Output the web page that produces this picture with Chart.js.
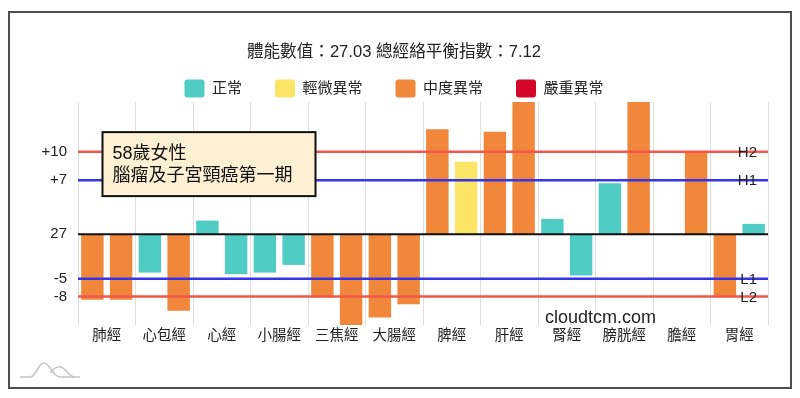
<!DOCTYPE html>
<html><head><meta charset="utf-8">
<script src="https://cdn.jsdelivr.net/npm/chart.js@4.4.0/dist/chart.umd.min.js"></script>
<style>
html,body{margin:0;padding:0;background:#fff;}
#wrap{position:relative;width:800px;height:398px;overflow:hidden;}
#frame{position:absolute;left:8px;top:11px;width:780px;height:374px;border:2px solid #4d4d4d;pointer-events:none;}
canvas{position:absolute;left:0;top:0;}
#logo{position:absolute;left:0;top:0;pointer-events:none;}
</style></head>
<body>
<div id="wrap">
<canvas id="c" width="800" height="398"></canvas>
<svg id="logo" width="800" height="398"><g fill="none" stroke="#c4c4c4" stroke-width="1.6">
<path d="M20,377 L30,377 C36,377 38,363 44,363 C50,363 53,377 60,377 L80,377"/>
<path d="M50,373 C54,368 57,366 61,367 C65,368 69,376 74,377"/>
</g></svg>
<div id="frame"></div>
</div>
<script>
const TITLE = '體能數值：27.03 總經絡平衡指數：7.12';
const CATEGORIES = ['肺經','心包經','心經','小腸經','三焦經','大腸經','脾經','肝經','腎經','膀胱經','膽經','胃經'];
const LEFT_VALUES  = [-7.95,-4.65, 1.65,-4.65,-7.63,-10.1,12.7,12.4, 1.85, 6.17, 0,    -7.55];
const RIGHT_VALUES = [-7.95,-9.28,-4.85,-3.72,-11.0,-8.48, 8.79,16.0,-5.0, 16.0, 10.08, 1.25];
// level index: 0 正常, 1 輕微異常, 2 中度異常, 3 嚴重異常
const LEFT_LEVELS  = [2,0,0,0,2,2,2,2,0,0,0,2];
const RIGHT_LEVELS = [2,2,0,0,2,2,1,2,0,2,2,0];
const LEVEL_LABELS = ['正常','輕微異常','中度異常','嚴重異常'];
const LEVEL_COLORS = ['#4fcdc5','#fce566','#f0873b','#d4062a'];
const REF_VALUES = [10, 6.54, -5.41, -7.55];
const REF_NAMES  = ['H2','H1','L1','L2'];
const REF_COLORS = ['#f2574a','#3535ea','#3535ea','#f2574a'];
const TICK_VALUES = [10, 6.54, 0, -5.41, -7.55];
const TICK_LABELS = ['+10','+7','27','-5','-8'];
const NOTE_LINES = ['58歲女性','腦瘤及子宮頸癌第一期'];
const WATERMARK = 'cloudtcm.com';

const FONT = 'Helvetica, Arial, "Liberation Sans", "Noto Sans CJK TC", sans-serif';
Chart.defaults.font.family = FONT;
Chart.defaults.color = '#222';

const overlay = {
  id: 'overlay',
  afterDatasetsDraw(chart) {
    const {ctx, chartArea: a, scales: {y}} = chart;
    ctx.save();
    ctx.strokeStyle = '#111';
    ctx.lineWidth = 2;
    const y0 = y.getPixelForValue(0);
    ctx.beginPath(); ctx.moveTo(a.left, y0); ctx.lineTo(a.right, y0); ctx.stroke();
    REF_VALUES.forEach((v, i) => {
      const py = y.getPixelForValue(v);
      ctx.strokeStyle = REF_COLORS[i];
      ctx.lineWidth = 2.5;
      ctx.beginPath(); ctx.moveTo(a.left, py); ctx.lineTo(a.right, py); ctx.stroke();
    });
    ctx.fillStyle = '#222';
    ctx.font = '15px ' + FONT;
    ctx.textAlign = 'right';
    ctx.textBaseline = 'middle';
    REF_VALUES.forEach((v, i) => {
      ctx.fillText(REF_NAMES[i], a.right - 11, y.getPixelForValue(v) + 1);
    });
    ctx.restore();
  },
  afterDraw(chart) {
    const {ctx, chartArea: a} = chart;
    ctx.save();
    const bx = a.left + 24.5, by = a.top + 30, bw = 213, bh = 64;
    ctx.fillStyle = '#fdf0d3';
    ctx.fillRect(bx, by, bw, bh);
    ctx.strokeStyle = '#111';
    ctx.lineWidth = 2;
    ctx.strokeRect(bx, by, bw, bh);
    ctx.fillStyle = '#111';
    ctx.font = '18px ' + FONT;
    ctx.textAlign = 'left';
    ctx.textBaseline = 'middle';
    ctx.fillText(NOTE_LINES[0], bx + 10, by + 21.5);
    ctx.fillText(NOTE_LINES[1], bx + 10, by + 43.5);
    ctx.fillStyle = '#222';
    ctx.font = '18px ' + FONT;
    ctx.fillText(WATERMARK, a.left + 467, a.bottom - 7);
    ctx.restore();
  }
};

new Chart(document.getElementById('c'), {
  type: 'bar',
  data: {
    labels: CATEGORIES,
    datasets: [
      { data: LEFT_VALUES, backgroundColor: LEFT_LEVELS.map(i => LEVEL_COLORS[i]), borderWidth: 0,
        categoryPercentage: 1.0, barPercentage: 0.78 },
      { data: RIGHT_VALUES, backgroundColor: RIGHT_LEVELS.map(i => LEVEL_COLORS[i]), borderWidth: 0,
        categoryPercentage: 1.0, barPercentage: 0.78 }
    ]
  },
  options: {
    responsive: false,
    animation: false,
    layout: { padding: { left: 20, right: 32, top: 0, bottom: 0 } },
    plugins: {
      title: {
        display: true, text: TITLE, color: '#222',
        font: { size: 16.6, weight: 'normal' },
        padding: { top: 42, bottom: -15.5 }
      },
      legend: {
        display: true, position: 'top', align: 'center', maxHeight: 55.7,
        onClick: null,
        labels: {
          boxWidth: 20, boxHeight: 18, padding: 33, color: '#222',
          font: { size: 15 }, useBorderRadius: true, borderRadius: 3,
          generateLabels: () => LEVEL_LABELS.map((t, i) => ({
            text: t, fillStyle: LEVEL_COLORS[i], strokeStyle: LEVEL_COLORS[i],
            lineWidth: 0, hidden: false, borderRadius: 3, fontColor: '#222'
          }))
        }
      },
      tooltip: { enabled: false }
    },
    scales: {
      x: {
        offset: true,
        grid: { display: true, offset: true, color: '#dedede', lineWidth: 1, drawTicks: false },
        border: { display: false },
        ticks: { font: { size: 14.5 }, color: '#222', padding: 2, maxRotation: 0, autoSkip: false },
        afterFit: s => { s.height = 73; }
      },
      y: {
        min: -11, max: 16,
        grid: { display: false, drawTicks: false },
        border: { display: false },
        afterBuildTicks: s => { s.ticks = TICK_VALUES.map(v => ({ value: v })); },
        ticks: {
          autoSkip: false, padding: 11, font: { size: 15 }, color: '#222',
          callback: (v, i) => TICK_LABELS[i]
        },
        afterFit: s => { s.width = 58; }
      }
    }
  },
  plugins: [overlay]
});
</script>
</body></html>
